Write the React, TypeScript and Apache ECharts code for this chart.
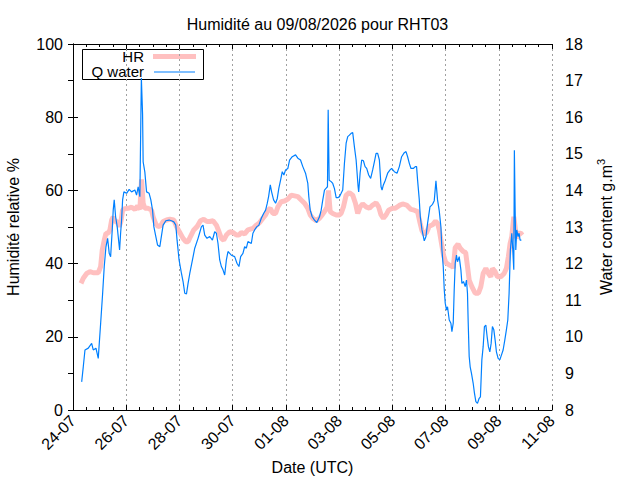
import React, { useEffect, useRef } from "react";
import * as echarts from "echarts";

// Day offsets are measured from 24-07-2026 00:00 UTC
const titleText = "Humidité au 09/08/2026 pour RHT03";
const dateTicks = ["24-07", "26-07", "28-07", "30-07", "01-08", "03-08", "05-08", "07-08", "09-08", "11-08"];
const leftTicks = [0, 20, 40, 60, 80, 100];
const rightTicks = [8, 9, 10, 11, 12, 13, 14, 15, 16, 17, 18];

// HR (%) : [day offset, value]
const hrPoints: [number, number][] = [
  [0.3, 34.6], [0.386, 36.0], [0.514, 37.3], [0.638, 37.8], [0.761, 37.5], [0.949, 37.5], [1.039, 39.2], [1.099, 43.7],
  [1.174, 46.4], [1.238, 48.3], [1.324, 48.3], [1.388, 49.2], [1.451, 51.9], [1.511, 52.8], [1.575, 51.5], [1.661, 51.5],
  [1.736, 50.1], [1.8, 51.5], [1.864, 54.6], [1.95, 55.0], [2.074, 55.1], [2.201, 55.4], [2.325, 54.8], [2.426, 55.7],
  [2.513, 54.8], [2.576, 63.0], [2.636, 56.5], [2.7, 55.1], [2.824, 55.1], [2.951, 54.6], [3.011, 52.8], [3.113, 50.8],
  [3.199, 50.1], [3.289, 50.3], [3.386, 51.5], [3.514, 51.9], [3.638, 52.1], [3.788, 51.9], [3.889, 50.1], [4.013, 48.5],
  [4.136, 46.9], [4.238, 46.0], [4.324, 46.0], [4.414, 47.4], [4.538, 49.2], [4.661, 50.1], [4.789, 51.7], [4.913, 52.1],
  [5.036, 51.5], [5.138, 51.5], [5.261, 51.7], [5.389, 50.5], [5.486, 48.7], [5.576, 46.9], [5.663, 46.4], [5.764, 47.8],
  [5.888, 48.7], [6.011, 48.5], [6.139, 47.8], [6.236, 47.8], [6.326, 48.5], [6.45, 48.1], [6.574, 49.2], [6.761, 49.6],
  [6.889, 50.5], [7.013, 51.2], [7.136, 52.4], [7.238, 53.3], [7.324, 54.6], [7.414, 55.1], [7.511, 53.7], [7.613, 53.7],
  [7.699, 55.5], [7.826, 56.9], [7.95, 57.1], [8.074, 57.6], [8.201, 58.7], [8.325, 58.5], [8.449, 58.3], [8.576, 57.4],
  [8.7, 56.5], [8.824, 55.1], [8.914, 53.3], [9.011, 52.4], [9.139, 51.7], [9.263, 52.4], [9.364, 53.3], [9.45, 54.2],
  [9.551, 55.5], [9.6, 60.0], [9.664, 54.2], [9.761, 53.7], [9.889, 53.3], [10.013, 53.3], [10.076, 53.7], [10.163, 55.5],
  [10.264, 58.7], [10.388, 59.4], [10.511, 58.7], [10.613, 56.5], [10.699, 53.7], [10.789, 55.5], [10.886, 56.3], [11.014, 55.5],
  [11.138, 55.1], [11.261, 56.0], [11.389, 56.6], [11.486, 55.5], [11.576, 53.3], [11.663, 52.4], [11.764, 53.3], [11.861, 54.6],
  [11.989, 55.1], [12.113, 55.1], [12.263, 55.9], [12.386, 56.3], [12.536, 56.0], [12.701, 54.8], [12.825, 54.6], [12.949, 54.2],
  [13.039, 51.2], [13.114, 49.0], [13.2, 48.0], [13.286, 48.5], [13.388, 50.2], [13.511, 50.6], [13.624, 51.6], [13.699, 51.0],
  [13.763, 49.2], [13.849, 45.5], [13.924, 42.3], [14.006, 40.3], [14.138, 39.6], [14.261, 39.2], [14.288, 38.7], [14.363, 44.4],
  [14.468, 45.3], [14.55, 44.2], [14.663, 43.3], [14.756, 43.0], [14.824, 39.2], [14.888, 35.5], [14.989, 33.7], [15.113, 31.9],
  [15.236, 31.9], [15.326, 33.7], [15.413, 37.3], [15.514, 38.7], [15.611, 37.3], [15.701, 36.4], [15.761, 38.7], [15.863, 37.8],
  [15.949, 36.4], [16.076, 36.4], [16.2, 37.3], [16.286, 38.7], [16.361, 41.9], [16.425, 45.5], [16.489, 47.4], [16.564, 52.8],
  [16.613, 50.1], [16.661, 46.9], [16.736, 48.3], [16.826, 48.3], [16.886, 47.8],
];

// Q water (g.m-3) : [day offset, value]
const qWaterPoints: [number, number][] = [
  [0.326, 8.77], [0.386, 9.18], [0.45, 9.64], [0.574, 9.69], [0.701, 9.82], [0.761, 9.64], [0.863, 9.69], [0.949, 9.41],
  [1.039, 10.37], [1.114, 11.19], [1.174, 11.92], [1.238, 12.46], [1.301, 12.69], [1.361, 12.28], [1.414, 12.19], [1.474, 12.92],
  [1.511, 13.46], [1.549, 13.74], [1.601, 13.28], [1.661, 13.01], [1.699, 12.74], [1.751, 12.37], [1.789, 12.83], [1.826, 13.19],
  [1.864, 13.74], [1.913, 13.96], [2.014, 13.92], [2.111, 14.03], [2.201, 13.96], [2.325, 14.01], [2.389, 13.87], [2.449, 14.1],
  [2.513, 13.83], [2.569, 17.07], [2.614, 16.1], [2.636, 14.78], [2.7, 14.5], [2.764, 13.96], [2.861, 13.92], [2.925, 13.74],
  [2.989, 13.46], [3.038, 13.01], [3.113, 12.74], [3.176, 12.51], [3.263, 12.46], [3.3, 12.64], [3.386, 13.05], [3.488, 13.17],
  [3.611, 13.19], [3.701, 13.17], [3.788, 13.14], [3.863, 13.05], [3.911, 12.64], [3.986, 12.1], [4.076, 11.73], [4.136, 11.51],
  [4.2, 11.19], [4.264, 11.17], [4.324, 11.46], [4.388, 11.73], [4.489, 12.1], [4.575, 12.42], [4.699, 12.69], [4.763, 12.85],
  [4.826, 13.01], [4.886, 13.05], [4.95, 12.78], [5.036, 12.69], [5.138, 12.74], [5.239, 12.64], [5.325, 12.87], [5.389, 12.83],
  [5.449, 12.55], [5.513, 12.1], [5.576, 11.92], [5.636, 11.83], [5.7, 11.69], [5.764, 12.1], [5.824, 12.33], [5.888, 12.28],
  [5.951, 12.23], [6.075, 12.19], [6.161, 12.01], [6.236, 11.92], [6.3, 12.19], [6.386, 12.28], [6.45, 12.46], [6.514, 12.42],
  [6.574, 12.6], [6.701, 12.55], [6.761, 12.83], [6.825, 12.92], [6.911, 13.01], [6.986, 13.05], [7.076, 13.24], [7.163, 13.37],
  [7.238, 13.46], [7.301, 13.65], [7.35, 13.83], [7.414, 14.15], [7.463, 13.96], [7.538, 13.74], [7.613, 13.65], [7.676, 13.78],
  [7.736, 14.06], [7.8, 14.28], [7.864, 14.51], [7.924, 14.42], [7.988, 14.56], [8.074, 14.6], [8.138, 14.83], [8.239, 14.92],
  [8.363, 14.97], [8.449, 14.88], [8.55, 14.83], [8.636, 14.65], [8.738, 14.47], [8.824, 14.19], [8.861, 13.83], [8.914, 13.46],
  [8.989, 13.28], [9.075, 13.19], [9.161, 13.12], [9.263, 13.28], [9.326, 13.46], [9.386, 13.74], [9.45, 14.01], [9.514, 14.06],
  [9.563, 14.1], [9.589, 16.2], [9.626, 14.28], [9.701, 14.24], [9.761, 14.19], [9.825, 14.05], [9.889, 13.8], [9.949, 13.8],
  [10.013, 13.83], [10.076, 13.92], [10.136, 14.01], [10.2, 14.74], [10.264, 15.29], [10.324, 15.47], [10.388, 15.51], [10.451, 15.56],
  [10.511, 15.58], [10.575, 15.19], [10.639, 14.83], [10.676, 14.47], [10.714, 14.1], [10.736, 13.96], [10.789, 14.47], [10.849, 14.83],
  [10.913, 14.81], [10.976, 14.65], [11.036, 14.6], [11.111, 14.42], [11.186, 14.33], [11.261, 14.56], [11.325, 14.78], [11.389, 15.01],
  [11.449, 15.01], [11.513, 14.83], [11.576, 14.1], [11.614, 14.01], [11.663, 14.15], [11.738, 14.28], [11.824, 14.47], [11.914, 14.56],
  [11.974, 14.6], [12.075, 14.51], [12.176, 14.47], [12.263, 14.65], [12.349, 14.92], [12.45, 15.03], [12.514, 15.06], [12.574, 14.92],
  [12.638, 14.74], [12.701, 14.6], [12.788, 14.6], [12.863, 14.65], [12.911, 14.65], [12.949, 14.28], [13.013, 13.74], [13.05, 13.28],
  [13.114, 12.92], [13.2, 12.62], [13.264, 12.74], [13.324, 13.1], [13.414, 13.55], [13.511, 13.62], [13.575, 13.72], [13.639, 14.26],
  [13.699, 13.74], [13.763, 13.44], [13.826, 13.0], [13.864, 12.37], [13.913, 11.92], [13.95, 11.3], [13.988, 10.92], [14.036, 10.73],
  [14.074, 10.82], [14.138, 10.46], [14.201, 10.37], [14.239, 10.14], [14.288, 10.37], [14.325, 11.28], [14.363, 12.01], [14.411, 12.23],
  [14.449, 12.05], [14.513, 12.19], [14.576, 11.83], [14.614, 11.46], [14.674, 11.51], [14.738, 11.37], [14.786, 11.55], [14.824, 11.19],
  [14.85, 10.41], [14.888, 9.46], [14.925, 9.18], [14.974, 9.0], [15.038, 8.73], [15.086, 8.46], [15.139, 8.23], [15.199, 8.18],
  [15.263, 8.32], [15.311, 8.36], [15.364, 9.37], [15.413, 9.73], [15.461, 10.28], [15.514, 10.32], [15.563, 10.0], [15.611, 9.73],
  [15.664, 9.59], [15.713, 9.82], [15.761, 10.28], [15.814, 10.19], [15.863, 9.91], [15.911, 9.59], [15.975, 9.41], [16.039, 9.37],
  [16.099, 9.5], [16.163, 9.64], [16.226, 9.91], [16.286, 10.19], [16.339, 10.46], [16.388, 11.19], [16.436, 12.37], [16.489, 12.83],
  [16.526, 12.37], [16.564, 11.83], [16.586, 15.1], [16.613, 13.55], [16.639, 12.37], [16.676, 12.92], [16.725, 12.74], [16.763, 12.83],
  [16.8, 12.64], [16.849, 12.64],
];

const FONT = "'Liberation Sans', Arial, Helvetica, sans-serif";
const HR_COLOR = "#ffc0c0";
const Q_COLOR = "#0080ff";

function buildOption(): any {
  const xCommon = {
    type: "value",
    min: 0,
    max: (dateTicks.length - 1) * 2,
    interval: 2,
    axisLine: { show: true, lineStyle: { color: "#000", width: 1 } },
    axisTick: { show: true, inside: true, length: 5, lineStyle: { color: "#000" } },
    minorTick: { show: true, splitNumber: 4, length: 3, lineStyle: { color: "#000" } },
  };
  return {
    animation: false,
    backgroundColor: "#fff",
    textStyle: { fontFamily: FONT, color: "#000" },
    title: {
      text: titleText,
      left: 312.5,
      top: 11,
      textAlign: "center",
      textStyle: { fontFamily: FONT, fontSize: 16, fontWeight: "normal", color: "#000" },
    },
    grid: { left: 73, right: 88, top: 44, bottom: 70, containLabel: false, outerBoundsMode: "none" },
    xAxis: [
      {
        ...xCommon,
        position: "bottom",
        name: "Date (UTC)",
        nameLocation: "middle",
        nameGap: 48,
        nameTextStyle: { fontFamily: FONT, fontSize: 16, color: "#000" },
        axisLabel: {
          rotate: 45,
          margin: 8,
          fontFamily: FONT,
          fontSize: 16,
          color: "#000",
          formatter: (v: number) => dateTicks[Math.round(v / 2)] ?? "",
        },
        splitLine: { show: true, lineStyle: { color: "#a0a0a0", width: 1, type: [2, 3] } },
      },
      {
        ...xCommon,
        position: "top",
        axisLabel: { show: false },
        splitLine: { show: false },
      },
    ],
    yAxis: [
      {
        type: "value",
        position: "left",
        min: leftTicks[0],
        max: leftTicks[leftTicks.length - 1],
        interval: leftTicks[1] - leftTicks[0],
        name: "Humidité relative %",
        nameLocation: "middle",
        nameRotate: 90,
        nameGap: 52,
        nameTextStyle: { fontFamily: FONT, fontSize: 16, color: "#000" },
        axisLine: { show: true, lineStyle: { color: "#000", width: 1 } },
        axisTick: { show: true, inside: true, length: 5, lineStyle: { color: "#000" } },
        axisLabel: { margin: 10, fontFamily: FONT, fontSize: 16, color: "#000" },
        splitLine: { show: false },
      },
      {
        type: "value",
        position: "right",
        min: rightTicks[0],
        max: rightTicks[rightTicks.length - 1],
        interval: rightTicks[1] - rightTicks[0],
        name: "{b|Water content g.m}{sup|3}",
        nameLocation: "middle",
        nameRotate: 90,
        nameGap: 43,
        nameTextStyle: {
          fontFamily: FONT,
          fontSize: 16,
          color: "#000",
          rich: {
            b: { fontFamily: FONT, fontSize: 16, color: "#000", lineHeight: 22 },
            sup: { fontFamily: FONT, fontSize: 11, color: "#000", lineHeight: 11, verticalAlign: "top" },
          },
        },
        axisLine: { show: true, lineStyle: { color: "#000", width: 1 } },
        axisTick: { show: true, inside: true, length: 5, lineStyle: { color: "#000" } },
        axisLabel: { margin: 13, fontFamily: FONT, fontSize: 16, color: "#000" },
        splitLine: { show: false },
      },
    ],
    series: [
      {
        name: "HR",
        type: "line",
        xAxisIndex: 0,
        yAxisIndex: 0,
        data: hrPoints,
        showSymbol: false,
        symbol: "none",
        lineStyle: { color: HR_COLOR, width: 5 },
        itemStyle: { color: HR_COLOR },
        z: 2,
      },
      {
        name: "Q water",
        type: "line",
        xAxisIndex: 0,
        yAxisIndex: 1,
        data: qWaterPoints,
        showSymbol: false,
        symbol: "none",
        lineStyle: { color: Q_COLOR, width: 1.2 },
        itemStyle: { color: Q_COLOR },
        z: 3,
      },
    ],
    graphic: [
      {
        type: "group",
        z: 100,
        children: [
          {
            type: "rect",
            shape: { x: 82.5, y: 49.5, width: 121, height: 30 },
            style: { fill: "#fff", stroke: "#000", lineWidth: 1 },
          },
          {
            type: "text",
            x: 144,
            y: 56,
            style: {
              text: "HR", fontFamily: FONT, fontSize: 15, lineHeight: 14, fill: "#000",
              textAlign: "right", textVerticalAlign: "middle",
            },
          },
          {
            type: "line",
            shape: { x1: 153, y1: 56.5, x2: 196, y2: 56.5 },
            style: { stroke: HR_COLOR, lineWidth: 5 },
          },
          {
            type: "text",
            x: 144,
            y: 71.5,
            style: {
              text: "Q water", fontFamily: FONT, fontSize: 15, lineHeight: 14, fill: "#000",
              textAlign: "right", textVerticalAlign: "middle",
            },
          },
          {
            type: "line",
            shape: { x1: 154, y1: 72, x2: 195, y2: 72 },
            style: { stroke: Q_COLOR, lineWidth: 1.2 },
          },
        ],
      },
    ],
  };
}

export default function App() {
  const ref = useRef<HTMLDivElement>(null);
  useEffect(() => {
    if (!ref.current) return;
    const chart = echarts.init(ref.current, null, { renderer: "svg" });
    chart.setOption(buildOption());
    return () => chart.dispose();
  }, []);
  return (
    <div
      ref={ref}
      style={{ position: "absolute", left: 0, top: 0, width: 640, height: 480, background: "#fff" }}
    />
  );
}
